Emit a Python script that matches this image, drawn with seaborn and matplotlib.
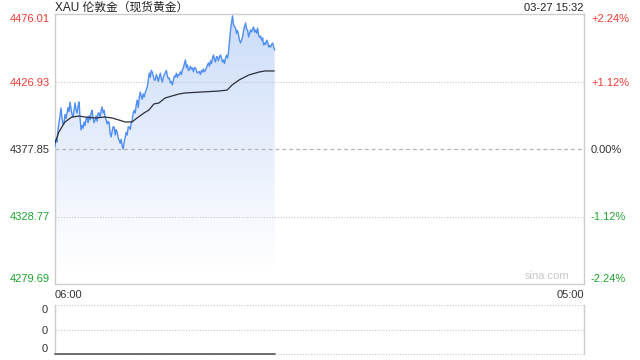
### intraday XAU chart, sina style: price line + average line, volume strip below

import numpy as np
import pandas as pd
import matplotlib.pyplot as plt
import matplotlib.dates as mdates
import seaborn as sns
from matplotlib.colors import LinearSegmentedColormap

# axis range and tick labels
prev_close = 4377.85
price_ticks = [4279.69, 4328.77, 4377.85, 4426.93, 4476.01]
pct_labels = ['-2.24%', '-1.12%', '0.00%', '+1.12%', '+2.24%']
tick_colors = ['#1fa82f', '#1fa82f', '#333333', '#f03a32', '#f03a32']
session_start = '2025-03-27 06:00'
session_end = '2025-03-28 05:00'
x_labels = ['06:00', '05:00']

# price samples (06:00 -> 15:32)
price = [
    4379.5, 4385.0, 4383.0, 4392.0, 4396.8, 4402.0, 4407.7, 4400.0, 4396.0, 4397.0,
    4403.0, 4400.0, 4404.0, 4408.0, 4405.0, 4412.0, 4407.0, 4403.0, 4401.0, 4406.0,
    4411.3, 4406.0, 4404.0, 4409.0, 4412.0, 4400.0, 4391.7, 4395.0, 4393.0, 4397.5,
    4395.0, 4400.0, 4401.0, 4397.0, 4402.0, 4399.0, 4404.0, 4406.0, 4400.0, 4397.0,
    4399.0, 4402.0, 4398.0, 4404.0, 4404.0, 4401.0, 4406.0, 4408.4, 4404.0, 4406.0,
    4401.0, 4399.0, 4396.0, 4398.0, 4396.8, 4389.0, 4386.6, 4391.0, 4394.0, 4393.8,
    4388.0, 4392.0, 4390.0, 4386.0, 4384.0, 4382.0, 4385.0, 4380.0, 4377.8, 4383.0,
    4386.6, 4390.0, 4388.0, 4394.0, 4393.8, 4392.0, 4396.8, 4399.0, 4404.0, 4406.0,
    4404.0, 4410.0, 4413.5, 4408.0, 4415.0, 4419.3, 4416.0, 4414.0, 4418.0, 4415.7,
    4419.0, 4421.0, 4422.9, 4428.0, 4433.1, 4430.0, 4435.0, 4433.8, 4431.0, 4428.0,
    4428.0, 4432.0, 4430.0, 4427.0, 4430.2, 4433.0, 4429.0, 4426.6, 4430.0, 4432.0,
    4433.1, 4435.0, 4431.0, 4429.0, 4429.5, 4426.0, 4427.0, 4424.4, 4428.0, 4431.0,
    4430.2, 4433.0, 4430.0, 4432.0, 4431.7, 4434.0, 4432.0, 4435.3, 4437.0, 4440.0,
    4442.6, 4437.0, 4439.0, 4435.0, 4435.3, 4438.0, 4436.0, 4436.8, 4434.0, 4437.0,
    4436.8, 4435.0, 4433.0, 4434.0, 4434.0, 4432.0, 4435.0, 4433.8, 4436.0, 4434.0,
    4435.3, 4437.0, 4439.0, 4440.4, 4438.0, 4442.0, 4440.0, 4444.0, 4446.2, 4443.0,
    4441.0, 4445.0, 4444.7, 4442.0, 4445.0, 4446.2, 4444.0, 4441.0, 4442.6, 4440.0,
    4444.0, 4446.0, 4444.0, 4448.4, 4456.0, 4464.4, 4470.0, 4474.6, 4468.0, 4467.0,
    4465.8, 4462.0, 4464.0, 4460.7, 4457.0, 4454.9, 4457.0, 4459.3, 4464.0, 4467.0,
    4469.5, 4465.0, 4464.4, 4459.3, 4462.0, 4464.4, 4463.0, 4465.0, 4466.6, 4463.0,
    4464.4, 4462.0, 4465.8, 4460.7, 4459.0, 4460.0, 4457.0, 4458.6, 4453.5, 4455.0,
    4454.0, 4457.0, 4455.7, 4452.0, 4453.0, 4452.0, 4454.0, 4454.9, 4452.0, 4449.8,
]

# running average line (minutes after 06:00, price)
avg_min = [0, 10, 26, 44, 63, 78, 104, 130, 149, 167, 183, 201, 214, 232, 245,
           258, 271, 287, 305, 323, 339, 383, 428, 449, 462, 480, 506, 532, 548, 572]
avg_price = [4382.2, 4390.2, 4397.5, 4401.1, 4401.8, 4401.1, 4400.4, 4401.1, 4400.4, 4398.9,
             4397.5, 4397.5, 4400.4, 4404.0, 4406.2, 4410.6, 4411.3, 4414.9, 4416.4, 4417.8,
             4418.6, 4419.3, 4420.0, 4420.7, 4424.4, 4428.0, 4431.7, 4433.8, 4434.6, 4434.6]

# volume is empty for this instrument
volume = [0] * len(price)

times = pd.date_range(session_start, periods=len(price), freq='157s')
avg_times = pd.Timestamp(session_start) + pd.to_timedelta(avg_min, unit='min')
t0, t1 = pd.Timestamp(session_start), pd.Timestamp(session_end)

sns.set_style('white')
plt.rcParams['font.family'] = ['Liberation Sans', 'Noto Sans CJK SC', 'DejaVu Sans']

fig = plt.figure(figsize=(6.4, 3.6), dpi=100)
ax = fig.add_axes([55 / 640, 1 - 284 / 360, 529 / 640, 270 / 360])
ax_vol = fig.add_axes([55 / 640, 1 - 354 / 360, 529 / 640, 49 / 360])

y_lo, y_hi = price_ticks[0], price_ticks[-1]

# gradient area under the price line
poly = ax.fill_between(times, price, y_lo, color='none', lw=0)
grad = np.linspace(1, 0, 256).reshape(-1, 1)
cmap = LinearSegmentedColormap.from_list('area', ['#ffffff', '#e6eefc', '#cbdcf9'])
im = ax.imshow(grad, cmap=cmap, aspect='auto', interpolation='bilinear',
               extent=[mdates.date2num(times[0]), mdates.date2num(times[-1]), 4290, y_hi],
               origin='upper', zorder=1)
im.set_clip_path(poly.get_paths()[0], transform=ax.transData)

# reference lines
for lvl in [price_ticks[1], price_ticks[3]]:
    ax.axhline(lvl, color='#c8c8c8', lw=0.8, ls=(0, (1, 1.5)), zorder=2)
ax.axhline(prev_close, color='#b4b4b4', lw=0.9, ls=(0, (3, 2.5)), zorder=2)

sns.lineplot(x=times, y=price, ax=ax, color='#4f8ef2', lw=1.0, estimator=None, zorder=4)
sns.lineplot(x=avg_times, y=avg_price, ax=ax, color='#2b2f3a', lw=0.9, estimator=None, zorder=5)

ax.set_xlim(t0, t1)
ax.set_ylim(y_lo, y_hi)
ax.set_xlabel('')
ax.set_ylabel('')
for s in ax.spines.values():
    s.set_color('#cccccc')
    s.set_linewidth(1)

ax.set_yticks(price_ticks)
ax.set_yticklabels([f'{v:.2f}' for v in price_ticks], fontsize=8)
ax.tick_params(axis='y', length=0, pad=4)
for lab, c in zip(ax.get_yticklabels(), tick_colors):
    lab.set_color(c)
ax.get_yticklabels()[0].set_va('bottom')
ax.get_yticklabels()[-1].set_va('top')

ax.set_xticks([t0, t1])
ax.set_xticklabels(x_labels, fontsize=8, color='#333333')
ax.tick_params(axis='x', length=0, pad=4)
ax.get_xticklabels()[0].set_ha('left')
ax.get_xticklabels()[1].set_ha('right')

# percent scale on the right
ax_r = ax.twinx()
ax_r.set_ylim(y_lo, y_hi)
ax_r.set_yticks(price_ticks)
ax_r.set_yticklabels(pct_labels, fontsize=8)
ax_r.tick_params(axis='y', length=0, pad=5)
for lab, c in zip(ax_r.get_yticklabels(), tick_colors):
    lab.set_color(c)
ax_r.get_yticklabels()[0].set_va('bottom')
ax_r.get_yticklabels()[-1].set_va('top')
for s in ax_r.spines.values():
    s.set_visible(False)

ax.text(0.972, 0.012, 'sina.com', transform=ax.transAxes, ha='right', va='bottom',
        fontsize=8, color='#c8c8c8')

# volume strip
for lvl in [0, 0.5, 1]:
    ax_vol.axhline(lvl, color='#c8c8c8', lw=0.8, ls=(0, (1, 1.5)), zorder=1, clip_on=False)
sns.lineplot(x=times, y=volume, ax=ax_vol, color='#555555', lw=1.2, estimator=None, zorder=3)
for ln in ax_vol.get_lines():
    ln.set_clip_on(False)
ax_vol.set_xlim(t0, t1)
ax_vol.set_ylim(0, 1)
ax_vol.set_xticks([])
ax_vol.set_xlabel('')
ax_vol.set_ylabel('')
ax_vol.set_yticks([0, 0.5, 1])
ax_vol.set_yticklabels(['0', '0', '0'], fontsize=8, color='#333333')
ax_vol.tick_params(axis='y', length=0, pad=5)
ax_vol.get_yticklabels()[0].set_va('bottom')
ax_vol.get_yticklabels()[-1].set_va('top')
ax_vol.spines['top'].set_visible(False)
ax_vol.spines['bottom'].set_visible(False)
for side in ['left', 'right']:
    ax_vol.spines[side].set_color('#cccccc')
    ax_vol.spines[side].set_linewidth(1)

fig.text(55 / 640, 1 - 8 / 360, 'XAU 伦敦金（现货黄金）', ha='left', va='center',
         fontsize=8.5, color='#222222')
fig.text(584 / 640, 1 - 8 / 360, '03-27 15:32', ha='right', va='center',
         fontsize=8, color='#222222')

plt.savefig('out.png', dpi=100)
